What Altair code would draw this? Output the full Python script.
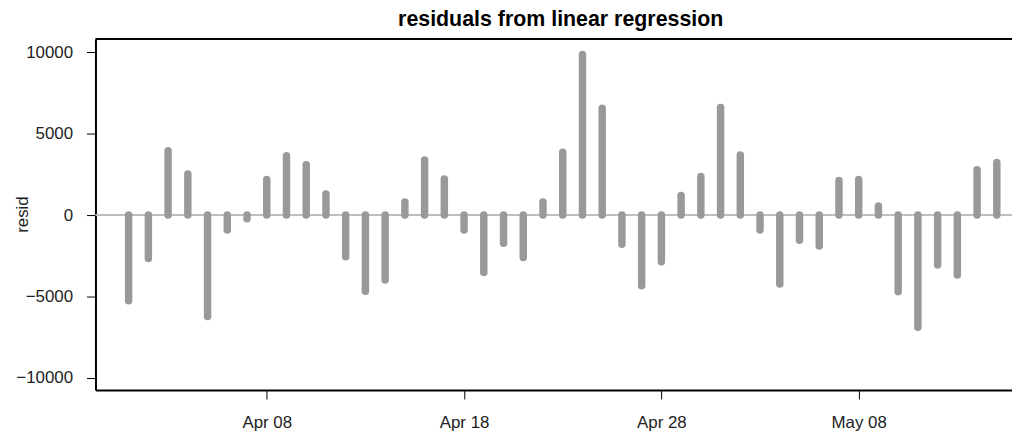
import altair as alt
import pandas as pd

dates = pd.date_range("2008-04-01", "2008-05-15", freq="D").strftime("%Y-%m-%d").tolist()
resid = [
    -5270, -2670, 3960, 2530, -6240, -920, -225, 2180, 3650, 3100,
    1300, -2570, -4690, -4000, 800, 3390, 2220, -920, -3530, -1730,
    -2610, 800, 3860, 9870, 6570, -1800, -4350, -2880, 1200, 2370,
    6610, 3690, -920, -4240, -1550, -1900, 2120, 2180, 550, -4710,
    -6900, -3080, -3690, 2780, 3240,
]
y_ticks = [-10000, -5000, 0, 5000, 10000]
x_tick_days = [(4, 8), (4, 18), (4, 28), (5, 8)]

df = pd.DataFrame({"date": dates, "resid": resid})

W, H = 922, 353
FONT = "Liberation Sans"

x_scale = alt.Scale(
    type="utc",
    domain=[
        alt.DateTime(year=2008, month=3, date=30, hours=7, minutes=40, utc=True),
        alt.DateTime(year=2008, month=5, date=15, hours=18, minutes=28, utc=True),
    ],
)
y_scale = alt.Scale(domain=[-10760, 10820], nice=False, zero=False)

x_axis = alt.Axis(
    values=[alt.DateTime(year=2008, month=m, date=d, utc=True) for m, d in x_tick_days],
    format="%b %d",
    title=None,
    grid=False,
    domainColor="black",
    domainWidth=2,
    tickColor="black",
    tickSize=9,
    tickWidth=1,
    labelFont=FONT,
    labelFontSize=17,
    labelColor="#222222",
    labelPadding=16,
)
y_axis = alt.Axis(
    values=y_ticks,
    format="d",
    title="resid",
    grid=False,
    domainColor="black",
    domainWidth=2,
    tickColor="black",
    tickSize=9,
    tickWidth=1,
    labelFont=FONT,
    labelFontSize=17,
    labelColor="#222222",
    labelPadding=14,
    titleFont=FONT,
    titleFontSize=17,
    titleFontWeight="normal",
    titleColor="#222222",
    titleAngle=270,
    titleX=-73,
    titleY=176,
    titleAlign="center",
    titleBaseline="middle",
)

zero = alt.Chart(pd.DataFrame({"z": [0]})).mark_rule(color="#bebebe", strokeWidth=2).encode(
    y=alt.Y("z:Q", scale=y_scale, axis=y_axis)
)

bars = alt.Chart(df).mark_rule(color="#999999", strokeWidth=7.5, strokeCap="round").encode(
    x=alt.X("date:T", scale=x_scale, axis=x_axis),
    y=alt.Y("resid:Q", scale=y_scale, axis=y_axis),
    y2=alt.datum(0),
)

top = alt.Chart(pd.DataFrame({"a": [0]})).mark_rule(color="black", strokeWidth=2).encode(
    x=alt.value(0), x2=alt.value(W), y=alt.value(0)
)

chart = (
    alt.layer(zero, bars, top)
    .properties(
        width=W,
        height=H,
        autosize=alt.AutoSizeParams(type="none"),
        padding={"left": 88, "top": 30, "right": 0, "bottom": 48},
        title=alt.TitleParams(
            "residuals from linear regression",
            font=FONT,
            fontSize=21.5,
            fontWeight="bold",
            color="black",
            anchor="middle",
            dx=7,
            offset=8,
        ),
    )
    .configure_view(strokeWidth=0)
)

chart.save("out.html", embed_options={"renderer": "svg", "actions": False})
